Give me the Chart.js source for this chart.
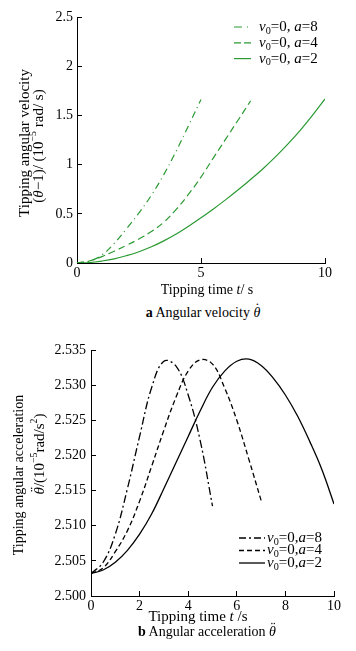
<!DOCTYPE html>
<html><head><meta charset="utf-8">
<script src="https://cdn.jsdelivr.net/npm/chart.js@4.4.1/dist/chart.umd.min.js"></script>
<style>
html,body{margin:0;padding:0;background:#fff;width:356px;height:651px;overflow:hidden;position:relative;font-family:"Liberation Serif",serif;}
.wrap{position:absolute;left:0;}
.cap{position:absolute;font-size:14px;color:#000;white-space:nowrap;transform:translate(-50%,-50%);line-height:1;}
.th{position:relative;font-style:italic;display:inline-block;}
.dt{position:absolute;left:1px;right:0;text-align:center;top:-0.28em;font-style:normal;}
</style></head><body>
<div class="wrap" style="top:0;width:356px;height:300px"><canvas id="c1" width="356" height="300"></canvas></div>
<div class="wrap" style="top:330px;width:356px;height:296px"><canvas id="c2" width="356" height="296"></canvas></div>
<div class="cap" style="left:203px;top:313px"><b>a</b> Angular velocity <span class="th">θ<span class="dt">˙</span></span></div>
<div class="cap" style="left:207px;top:632px"><b>b</b> Angular acceleration <span class="th">θ<span class="dt">¨</span></span></div>
<script>
// ---------- data ----------
const seriesA = [8, 4, 2];

// Top chart: tipping angular velocity
const tVelA8 = [0,0.5,1,1.5,2,2.5,3,3.5,4,4.5,5];
const velA8  = [0,0.02,0.08,0.2,0.35,0.51,0.69,0.9,1.14,1.4,1.665];
const tVelA4 = [0,0.5,1,1.5,2,2.5,3,3.5,4,4.5,5,5.5,6,6.5,7];
const velA4  = [0,0.02,0.065,0.12,0.18,0.245,0.32,0.415,0.545,0.7,0.875,1.07,1.263,1.456,1.65];
const tVelA2 = [0,0.5,1,1.5,2,2.5,3,3.5,4,4.5,5,5.5,6,6.5,7,7.5,8,8.5,9,9.5,10];
const velA2  = [0,0.005,0.02,0.042,0.075,0.115,0.165,0.225,0.295,0.375,0.46,0.55,0.645,0.745,0.85,0.96,1.08,1.21,1.35,1.505,1.67];
const velXTicks = [0,5,10];
const velXTickLabels = ['0','5','10'];
const velYTicks = [0,0.5,1,1.5,2,2.5];
const velYTickLabels = ['0','0.5','1','1.5','2','2.5'];

// Bottom chart: tipping angular acceleration
const tAccA8 = [0,0.5,1,1.5,2,2.5,3,3.5,4,4.5,5];
const accA8  = [2.5032,2.5048,2.5088,2.5153,2.5227,2.5297,2.5334,2.5327,2.5286,2.5220,2.5128];
const tAccA4 = [0,0.5,1,1.5,2,2.5,3,3.5,4,4.5,5,5.5,6,6.5,7];
const accA4  = [2.5032,2.5040,2.5063,2.5093,2.5135,2.5185,2.5236,2.5283,2.5320,2.5336,2.5330,2.5296,2.5250,2.5194,2.5136];
const tAccA2 = [0,0.5,1,1.5,2,2.5,3,3.5,4,4.5,5,5.5,6,6.5,7,7.5,8,8.5,9,9.5,10];
const accA2  = [2.5032,2.5037,2.5048,2.5065,2.5088,2.5117,2.5153,2.5190,2.5227,2.5264,2.5297,2.5320,2.5334,2.5337,2.5328,2.5310,2.5286,2.5256,2.5220,2.5180,2.5131];
const accXTicks = [0,2,4,6,8,10];
const accXTickLabels = ['0','2','4','6','8','10'];
const accYTicks = [2.5,2.505,2.51,2.515,2.52,2.525,2.53,2.535];
const accYTickLabels = ['2.500','2.505','2.510','2.515','2.520','2.525','2.530','2.535'];

// ---------- helpers ----------
const F = '"Liberation Serif", "Times New Roman", serif';
const pts = (xs, ys) => xs.map((x, i) => ({x, y: ys[i]}));

// draw a run of mixed-style text (italic letters, sub/superscripts, dotted theta)
function drawRich(ctx, segs, x0, y0, size, opts) {
  opts = opts || {};
  ctx.save();
  ctx.translate(x0, y0);
  if (opts.rot) ctx.rotate(opts.rot);
  ctx.textBaseline = 'middle';
  ctx.textAlign = 'left';
  ctx.fillStyle = '#000';
  const fontOf = s => (s.i ? 'italic ' : '') + (size * (s.sc || 1)) + 'px ' + F;
  let w = 0;
  const ws = segs.map(s => { ctx.font = fontOf(s); const m = ctx.measureText(s.t).width; w += m; return m; });
  let x = opts.align === 'left' ? 0 : -w / 2;
  segs.forEach((s, k) => {
    ctx.font = fontOf(s);
    const y = (s.dy || 0) * size;
    ctx.fillText(s.t, x, y);
    if (s.dots) {
      ctx.font = size + 'px ' + F;
      const ch = s.dots === 2 ? '¨' : '˙';
      const dw = ctx.measureText(ch).width;
      ctx.fillText(ch, x + ws[k] / 2 - dw / 2 + size * 0.08, y - size * 0.27);
    }
    x += ws[k];
  });
  ctx.restore();
}

function textPlugin(cfg) {
  return {
    id: 'sketchText',
    afterDraw(chart) {
      const ctx = chart.ctx;
      // axis titles
      cfg.texts.forEach(t => drawRich(ctx, t.segs, t.x, t.y, t.size, {rot: t.rot}));
      // legend
      const L = cfg.legend;
      chart.data.datasets.forEach((ds, i) => {
        const y = L.y + i * L.dy;
        ctx.save();
        ctx.strokeStyle = ds.borderColor;
        ctx.lineWidth = ds.borderWidth;
        ctx.setLineDash(ds.legendDash || []);
        ctx.beginPath();
        ctx.moveTo(L.x0, y);
        ctx.lineTo(L.x1, y);
        ctx.stroke();
        ctx.restore();
        drawRich(ctx, [
          {t: 'v', i: 1},
          {t: '0', sc: 0.68, dy: 0.28},
          {t: '=0' + L.sep},
          {t: 'a', i: 1},
          {t: '=' + seriesA[i]}
        ], L.tx, y, L.size, {align: 'left'});
      });
    }
  };
}

function axisCommon(ticks, labels, pad, size) {
  return {
    type: 'linear',
    min: ticks[0], max: ticks[ticks.length - 1],
    afterBuildTicks: s => { s.ticks = ticks.map(v => ({value: v})); },
    ticks: {
      callback: (v, i) => labels[i],
      padding: pad, color: '#000', autoSkip: false, maxRotation: 0,
      font: {family: F, size: size}
    },
    grid: {drawOnChartArea: false, tickLength: -5, color: '#000', lineWidth: 1},
    border: {display: true, color: '#000', width: 1},
    title: {display: false}
  };
}

// ---------- top chart ----------
const GREEN = '#2b9a33';
const x1 = axisCommon(velXTicks, velXTickLabels, 7, 14);
x1.afterFit = s => { s.height = 37; };
const y1 = axisCommon(velYTicks, velYTickLabels, 9, 14);
y1.afterFit = s => { s.width = 77; };

new Chart(document.getElementById('c1'), {
  type: 'line',
  data: {
    datasets: [
      {label: 'v₀=0, a=8', data: pts(tVelA8, velA8), borderColor: GREEN, borderWidth: 1.2, borderDash: [7,4,1,4], legendDash: [8,5,1,5], pointRadius: 0, tension: 0.4, fill: false},
      {label: 'v₀=0, a=4', data: pts(tVelA4, velA4), borderColor: GREEN, borderWidth: 1.2, borderDash: [7,4], legendDash: [7,3], pointRadius: 0, tension: 0.4, fill: false},
      {label: 'v₀=0, a=2', data: pts(tVelA2, velA2), borderColor: GREEN, borderWidth: 1.2, borderDash: [], legendDash: [], pointRadius: 0, tension: 0.4, fill: false}
    ]
  },
  options: {
    responsive: false, animation: false,
    layout: {padding: {left: 0, top: 13, right: 31, bottom: 0}},
    plugins: {legend: {display: false}, tooltip: {enabled: false}},
    scales: {x: x1, y: y1}
  },
  plugins: [textPlugin({
    texts: [
      {segs: [{t: 'Tipping time '}, {t: 't', i: 1}, {t: '/ s'}], x: 207, y: 290, size: 14},
      {segs: [{t: 'Tipping angular velocity'}], x: 25, y: 143, size: 15, rot: -Math.PI / 2},
      {segs: [{t: '('}, {t: 'θ', i: 1, dots: 1}, {t: '−1)/ (10'}, {t: '−5', sc: 0.65, dy: -0.35}, {t: ' rad/ s)'}], x: 39, y: 146, size: 15, rot: -Math.PI / 2}
    ],
    legend: {x0: 234, x1: 251, tx: 259, y: 27, dy: 15.8, size: 15, sep: ', '}
  })]
});

// ---------- bottom chart ----------
const x2 = axisCommon(accXTicks, accXTickLabels, 7, 14);
x2.afterFit = s => { s.height = 30; };
const y2 = axisCommon(accYTicks, accYTickLabels, 10, 14);
y2.afterFit = s => { s.width = 91; };

new Chart(document.getElementById('c2'), {
  type: 'line',
  data: {
    datasets: [
      {label: 'v₀=0,a=8', data: pts(tAccA8, accA8), borderColor: '#000', borderWidth: 1.3, borderDash: [8,3,2,3], legendDash: [7,3,2,3], pointRadius: 0, tension: 0.4, fill: false},
      {label: 'v₀=0,a=4', data: pts(tAccA4, accA4), borderColor: '#000', borderWidth: 1.3, borderDash: [5,3], legendDash: [5,3], pointRadius: 0, tension: 0.4, fill: false},
      {label: 'v₀=0,a=2', data: pts(tAccA2, accA2), borderColor: '#000', borderWidth: 1.3, borderDash: [], legendDash: [], pointRadius: 0, tension: 0.4, fill: false}
    ]
  },
  options: {
    responsive: false, animation: false,
    layout: {padding: {left: 0, top: 20, right: 22, bottom: 0}},
    plugins: {legend: {display: false}, tooltip: {enabled: false}},
    scales: {x: x2, y: y2}
  },
  plugins: [textPlugin({
    texts: [
      {segs: [{t: 'Tipping time '}, {t: 't', i: 1}, {t: ' /s'}], x: 198, y: 287, size: 15},
      {segs: [{t: 'Tipping angular acceleration'}], x: 19, y: 145, size: 14, rot: -Math.PI / 2},
      {segs: [{t: 'θ', i: 1, dots: 2}, {t: '/(10'}, {t: '−5', sc: 0.65, dy: -0.35}, {t: 'rad/s'}, {t: '2', sc: 0.65, dy: -0.35}, {t: ')'}], x: 40, y: 124, size: 15, rot: -Math.PI / 2}
    ],
    legend: {x0: 239, x1: 265, tx: 267, y: 208, dy: 12.5, size: 15, sep: ','}
  })]
});
</script>
</body></html>
